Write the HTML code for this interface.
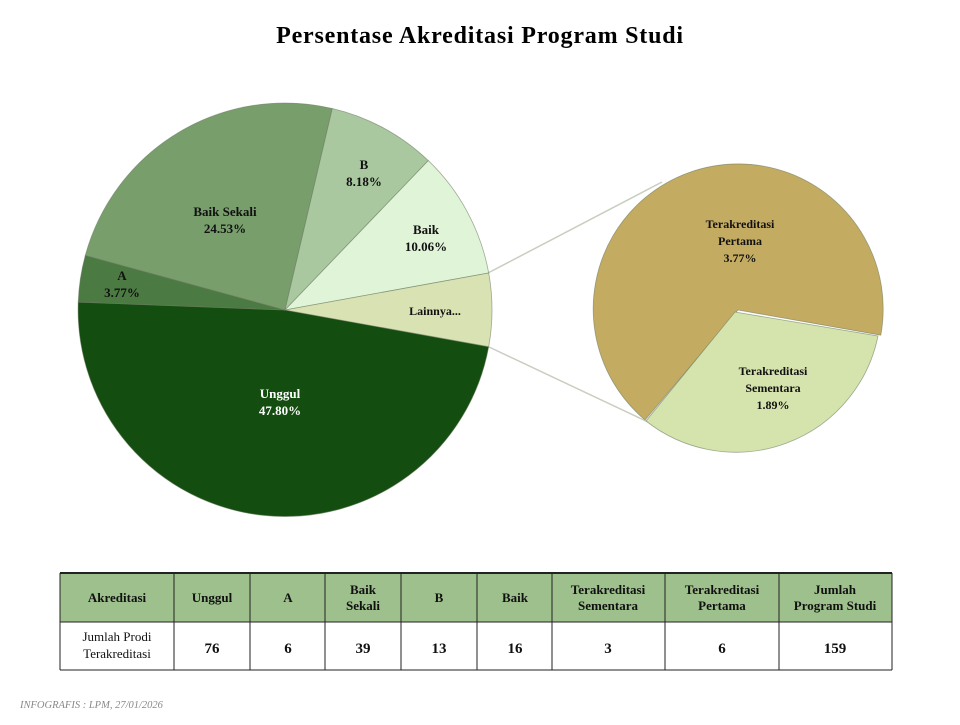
<!DOCTYPE html>
<html><head><meta charset="utf-8"><style>
body{margin:0;background:#fff;width:960px;height:720px;overflow:hidden;font-family:"Liberation Serif",serif}
</style></head><body>
<svg width="960" height="720" viewBox="0 0 960 720" xmlns="http://www.w3.org/2000/svg" font-family="Liberation Serif, serif">
<text x="480" y="43" text-anchor="middle" font-size="24" font-weight="bold" letter-spacing="0.8" fill="#000">Persentase Akreditasi Program Studi</text>
<g stroke="#c8cec0" stroke-width="1.5">
<line x1="488" y1="273" x2="662" y2="182"/>
<line x1="489" y1="347" x2="648" y2="422"/>
</g>
<g stroke="#6a7a60" stroke-width="0.8" stroke-opacity="0.6">
<path d="M285,310 L488.7,346.7 A207,207 0 0 1 78.2,302.1 Z" fill="#144d10"/>
<path d="M285,310 L78.2,302.1 A207,207 0 0 1 85.3,255.4 Z" fill="#4b7a42"/>
<path d="M285,310 L85.3,255.4 A207,207 0 0 1 332.3,108.5 Z" fill="#789e6c"/>
<path d="M285,310 L332.3,108.5 A207,207 0 0 1 428.3,160.6 Z" fill="#a9c89f"/>
<path d="M285,310 L428.3,160.6 A207,207 0 0 1 488.7,273.0 Z" fill="#e0f4d8"/>
<path d="M285,310 L488.7,273.0 A207,207 0 0 1 488.7,346.7 Z" fill="#d9e2b2"/>
<path d="M738,310 L645,420 A145,145 0 1 1 880.8,335.2 Z" fill="#c4ab62"/>
<path d="M735,312 L878,336 A145,145 0 0 1 646,421 Z" fill="#d5e3ad"/>
</g>
<g font-size="13" font-weight="bold" text-anchor="middle" fill="#111">
<text x="225" y="216">Baik Sekali</text><text x="225" y="233">24.53%</text>
<text x="364" y="169">B</text><text x="364" y="186">8.18%</text>
<text x="426" y="234">Baik</text><text x="426" y="251">10.06%</text>
<text x="122" y="280">A</text><text x="122" y="297">3.77%</text>
<text x="435" y="315" font-size="12">Lainnya...</text>
<text x="280" y="398" fill="#fff">Unggul</text><text x="280" y="415" fill="#fff">47.80%</text>
<g font-size="12">
<text x="740" y="228">Terakreditasi</text><text x="740" y="245">Pertama</text><text x="740" y="262">3.77%</text>
<text x="773" y="375">Terakreditasi</text><text x="773" y="392">Sementara</text><text x="773" y="409">1.89%</text>
</g>
</g>
<rect x="60" y="573" width="832" height="49" fill="#9dc08c"/>
<g stroke="#222" stroke-width="1" fill="none">
<line x1="60" y1="573" x2="892" y2="573" stroke-width="2"/>
<line x1="60" y1="622" x2="892" y2="622"/>
<line x1="60" y1="670" x2="892" y2="670"/>
<line x1="60" y1="573" x2="60" y2="670"/><line x1="174" y1="573" x2="174" y2="670"/>
<line x1="250" y1="573" x2="250" y2="670"/><line x1="325" y1="573" x2="325" y2="670"/>
<line x1="401" y1="573" x2="401" y2="670"/><line x1="477" y1="573" x2="477" y2="670"/>
<line x1="552" y1="573" x2="552" y2="670"/><line x1="665" y1="573" x2="665" y2="670"/>
<line x1="779" y1="573" x2="779" y2="670"/><line x1="892" y1="573" x2="892" y2="670"/>
</g>
<g font-size="13" font-weight="bold" text-anchor="middle" fill="#111">
<text x="117" y="602">Akreditasi</text>
<text x="212" y="602">Unggul</text>
<text x="288" y="602">A</text>
<text x="363" y="594">Baik</text><text x="363" y="610">Sekali</text>
<text x="439" y="602">B</text>
<text x="515" y="602">Baik</text>
<text x="608" y="594">Terakreditasi</text><text x="608" y="610">Sementara</text>
<text x="722" y="594">Terakreditasi</text><text x="722" y="610">Pertama</text>
<text x="835" y="594">Jumlah</text><text x="835" y="610">Program Studi</text>
<g font-size="15">
<text x="212" y="653">76</text><text x="288" y="653">6</text><text x="363" y="653">39</text>
<text x="439" y="653">13</text><text x="515" y="653">16</text><text x="608" y="653">3</text>
<text x="722" y="653">6</text><text x="835" y="653">159</text>
</g>
</g>
<text x="117" y="641" font-size="13" text-anchor="middle" fill="#111">Jumlah Prodi</text>
<text x="117" y="658" font-size="13" text-anchor="middle" fill="#111">Terakreditasi</text>
<text x="20" y="708" font-size="10.5" font-style="italic" fill="#888">INFOGRAFIS : LPM, 27/01/2026</text>
</svg>
</body></html>
